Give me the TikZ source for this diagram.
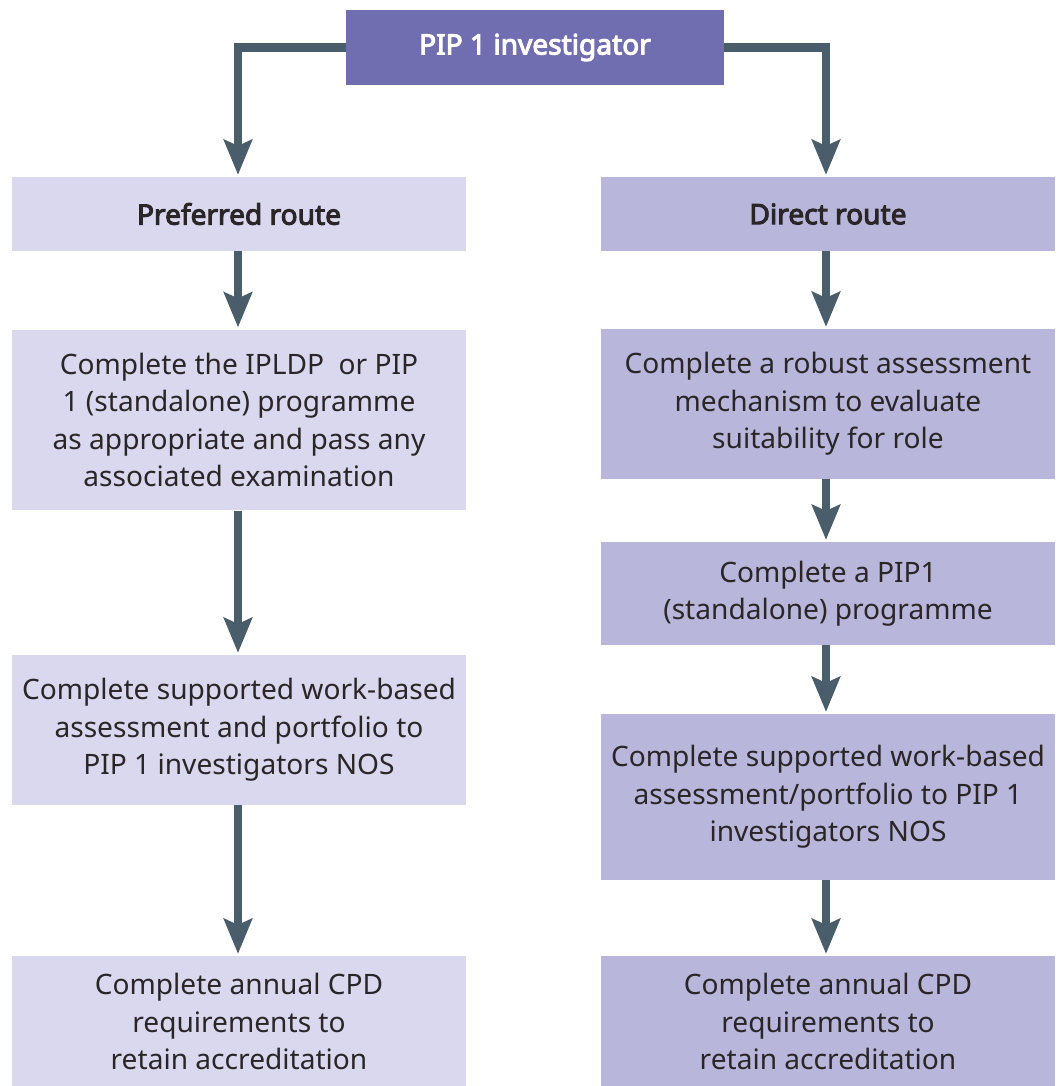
\documentclass[tikz,border=0pt]{standalone}
\usepackage{fontspec}
\setmainfont{Noto Sans}[AutoFakeBold=3.6]
\usetikzlibrary{positioning, arrows.meta}
\definecolor{cTop}{HTML}{716DB1}
\definecolor{cPref}{HTML}{DAD8EE}
\definecolor{cDir}{HTML}{B8B6DA}
\definecolor{cArr}{HTML}{495D6A}
\definecolor{cTxt}{HTML}{2A2627}

\tikzset{
  stepbox/.style={inner sep=0pt, align=center, minimum width=9.08cm,
    font=\fontsize{16}{21.3}\selectfont, text=cTxt},
  prefbox/.style={stepbox, fill=cPref},
  dirbox/.style={stepbox, fill=cDir},
  headtxt/.style={font=\fontsize{16}{21.3}\selectfont\bfseries},
  flow/.style={cArr, line width=5.1pt,
    -{Stealth[length=7mm, width=5.6mm, inset=1.2mm]}, shorten >=1pt}
}

\begin{document}
\begin{tikzpicture}[x=0.02cm, y=-0.02cm]
    \useasboundingbox (0,0) rectangle (1059,1086);

    % --- Top ---
    \node[stepbox, headtxt, fill=cTop, text=white, minimum width=7.56cm, minimum height=1.5cm] (top) at (535,47.5) {PIP 1 investigator};

    % --- Preferred route ---
    \node[prefbox, headtxt, minimum height=1.48cm] (pref) at (239,214) {Preferred route};
    \node[prefbox, minimum height=3.62cm] (prefA) at (239,420)
      {Complete the IPLDP\ \ or PIP\\1 (standalone) programme\\as appropriate and pass any\\associated examination};
    \node[prefbox, minimum height=3cm] (prefB) at (239,730)
      {Complete supported work-based\\assessment and portfolio to\\PIP 1 investigators NOS};
    \node[prefbox, minimum height=2.62cm] (prefC) at (239,1021.5)
      {Complete annual CPD\\requirements to\\retain accreditation};

    % --- Direct route ---
    \node[dirbox, headtxt, minimum height=1.48cm] (dir) at (828,214) {Direct route};
    \node[dirbox, minimum height=3cm] (dirA) at (828,404)
      {Complete a robust assessment\\mechanism to evaluate\\suitability for role};
    \node[dirbox, minimum height=2.06cm] (dirB) at (828,593.5)
      {Complete a PIP1\\(standalone) programme};
    \node[dirbox, minimum height=3.32cm] (dirC) at (828,797)
      {Complete supported work-based\\assessment/portfolio to PIP 1\\investigators NOS};
    \node[dirbox, minimum height=2.62cm] (dirD) at (828,1021.5)
      {Complete annual CPD\\requirements to\\retain accreditation};

    % --- Arrows ---
    \draw[flow] (top.west) -| ([xshift=-0.02cm]pref.north);
    \draw[flow] (top.east) -| ([xshift=-0.04cm]dir.north);

    \draw[flow] ([xshift=-0.02cm]pref.south) -- ([xshift=-0.02cm]prefA.north);
    \draw[flow] ([xshift=-0.02cm]prefA.south) -- ([xshift=-0.02cm]prefB.north);
    \draw[flow] ([xshift=-0.02cm]prefB.south) -- ([xshift=-0.02cm]prefC.north);

    \draw[flow] ([xshift=-0.04cm]dir.south) -- ([xshift=-0.04cm]dirA.north);
    \draw[flow] ([xshift=-0.04cm]dirA.south) -- ([xshift=-0.04cm]dirB.north);
    \draw[flow] ([xshift=-0.04cm]dirB.south) -- ([xshift=-0.04cm]dirC.north);
    \draw[flow] ([xshift=-0.04cm]dirC.south) -- ([xshift=-0.04cm]dirD.north);

\end{tikzpicture}
\end{document}
